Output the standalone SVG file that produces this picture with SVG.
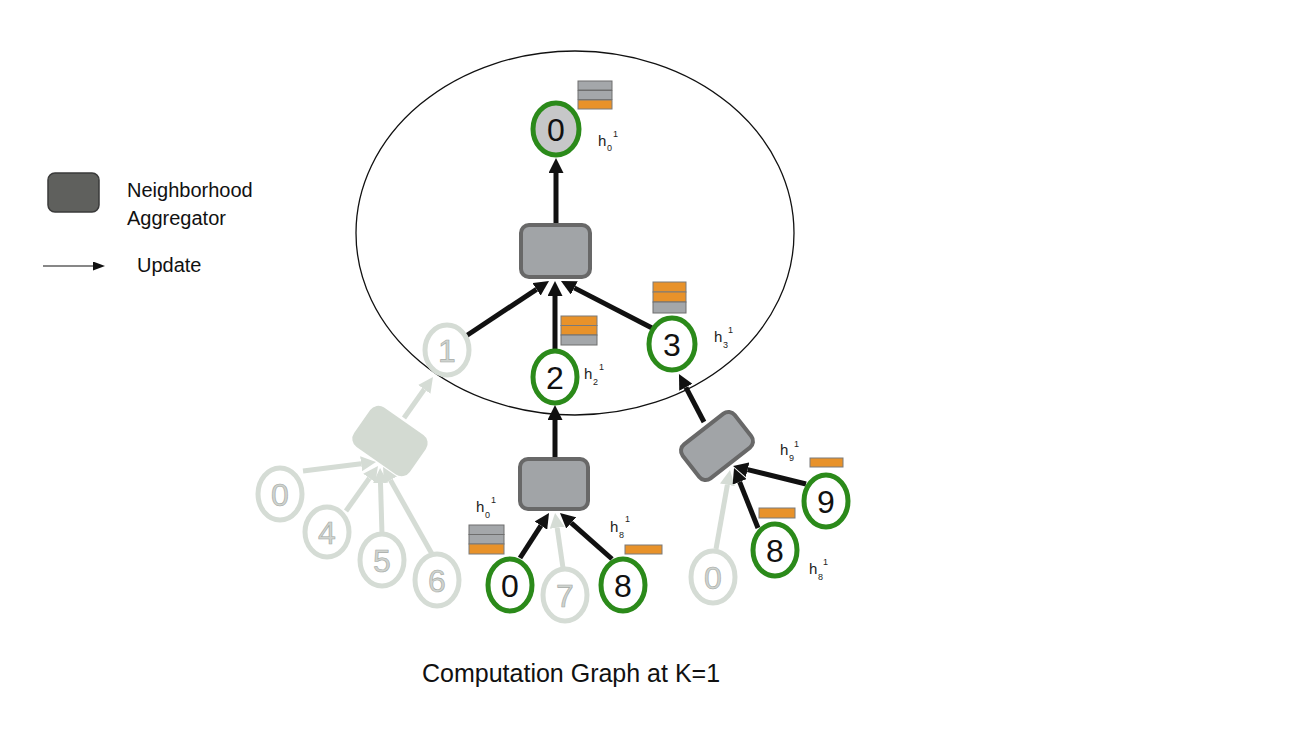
<svg xmlns="http://www.w3.org/2000/svg" width="1313" height="729" viewBox="0 0 1313 729">
<defs>
<style>
text{font-family:"Liberation Sans",Arial,sans-serif}
.g{fill:#fff;stroke:#2b8a1a;stroke-width:5}
.f{fill:#fff;stroke:#d5dcd5;stroke-width:5}
.d{font-size:32px;fill:#111;text-anchor:middle}
.fd{font-size:32px;fill:#cfd3cf;stroke:#a3a8a3;stroke-width:0.6;text-anchor:middle}
.agg{fill:#a1a4a7;stroke:#686868;stroke-width:4}
.fagg{fill:#d3dad2;stroke:#d3dad2;stroke-width:2}
.c{stroke:#111;stroke-width:5;fill:none}
.cf{stroke:#d5dcd5;stroke-width:5;fill:none}
.gb{fill:#a4a7aa;stroke:#6e6e6e;stroke-width:1}
.ob{fill:#e8922a;stroke:#7a7a7a;stroke-width:1}
.h{font-size:15px;fill:#222}
.s{font-size:9px;fill:#222}
.lg{font-size:20px;fill:#111}
</style>
<marker id="ah" markerUnits="userSpaceOnUse" markerWidth="15" markerHeight="15" refX="0" refY="7.5" orient="auto">
<path d="M0,0 L15,7.5 L0,15 z" fill="#111"/>
</marker>
<marker id="ahf" markerUnits="userSpaceOnUse" markerWidth="15" markerHeight="15" refX="0" refY="7.5" orient="auto">
<path d="M0,0 L15,7.5 L0,15 z" fill="#d5dcd5"/>
</marker>
<marker id="ahs" markerUnits="userSpaceOnUse" markerWidth="12" markerHeight="9" refX="0" refY="4.5" orient="auto">
<path d="M0,0 L12,4.5 L0,9 z" fill="#111"/>
</marker>
</defs>
<rect width="1313" height="729" fill="#fff"/>

<g id="boundary">
<ellipse cx="575" cy="233" rx="219" ry="182" fill="none" stroke="#111" stroke-width="1.3"/>
</g>

<g id="legend">
<rect x="48" y="173" width="51" height="39" rx="7" fill="#5f605d" stroke="#3a3a3a" stroke-width="1.5"/>
<text class="lg" x="127" y="197">Neighborhood</text>
<text class="lg" x="127" y="225">Aggregator</text>
<line x1="43" y1="266" x2="93" y2="266" stroke="#111" stroke-width="1.2" marker-end="url(#ahs)"/>
<text class="lg" x="137" y="272">Update</text>
</g>

<g id="faded-aggregator">
<rect x="357" y="418" width="66" height="46" rx="9" transform="rotate(35 390 441)" class="fagg"/>
</g>
<g id="agg-mid"><rect x="521" y="225" width="69" height="52" rx="8" class="agg"/></g>
<g id="agg-bottom"><rect x="520" y="459" width="68" height="50" rx="8" class="agg"/></g>
<g id="agg-right"><rect x="684" y="424.5" width="66" height="43" rx="8" transform="rotate(-38 717 446)" class="agg"/></g>

<g id="connectors">
<line class="cf" x1="303" y1="471" x2="361.1" y2="463.8" marker-end="url(#ahf)"/>
<line class="cf" x1="346" y1="511" x2="369.3" y2="478.2" marker-end="url(#ahf)"/>
<line class="cf" x1="382" y1="534" x2="380.5" y2="483" marker-end="url(#ahf)"/>
<line class="cf" x1="432" y1="554" x2="390.4" y2="480.1" marker-end="url(#ahf)"/>
<line class="cf" x1="404" y1="418" x2="424.3" y2="389.3" marker-end="url(#ahf)"/>
<line class="cf" x1="563" y1="568" x2="557.2" y2="527.8" marker-end="url(#ahf)"/>
<line class="cf" x1="716" y1="549" x2="727.4" y2="484.8" marker-end="url(#ahf)"/>
<line class="c" x1="556" y1="223" x2="556" y2="173" marker-end="url(#ah)"/>
<line class="c" x1="466" y1="336" x2="536.5" y2="289.3" marker-end="url(#ah)"/>
<line class="c" x1="555" y1="351" x2="555" y2="296" marker-end="url(#ah)"/>
<line class="c" x1="652" y1="328" x2="574.3" y2="287.9" marker-end="url(#ah)"/>
<line class="c" x1="555" y1="457" x2="555" y2="420" marker-end="url(#ah)"/>
<line class="c" x1="704" y1="422" x2="685.9" y2="387.3" marker-end="url(#ah)"/>
<line class="c" x1="520" y1="558" x2="540.9" y2="525.6" marker-end="url(#ah)"/>
<line class="c" x1="612" y1="559" x2="571.2" y2="522.9" marker-end="url(#ah)"/>
<line class="c" x1="806" y1="484" x2="747.6" y2="469.6" marker-end="url(#ah)"/>
<line class="c" x1="758" y1="528" x2="739.6" y2="481.9" marker-end="url(#ah)"/>
</g>

<g id="node-top-0">
<ellipse cx="556" cy="129" rx="23" ry="26" fill="#c6c7c8" stroke="#2b8a1a" stroke-width="5"/>
<text class="d" x="556" y="141">0</text>
<rect class="gb" x="578" y="81" width="34" height="9"/>
<rect class="gb" x="578" y="90.5" width="34" height="9"/>
<rect class="ob" x="578" y="100" width="34" height="9"/>
<text class="h" x="598" y="146">h</text><text class="s" x="607" y="151">0</text><text class="s" x="613" y="137">1</text>
</g>

<g id="node-1">
<ellipse cx="447" cy="350" rx="22" ry="25" fill="none" stroke="#d5dcd5" stroke-width="5"/>
<text class="fd" x="447" y="362">1</text>
</g>

<g id="node-2">
<ellipse cx="555" cy="377" rx="22" ry="26" class="g"/>
<text class="d" x="555" y="389">2</text>
<rect class="ob" x="561" y="316" width="36" height="9.5"/>
<rect class="ob" x="561" y="325.5" width="36" height="9.5"/>
<rect class="gb" x="561" y="335" width="36" height="10"/>
<text class="h" x="584" y="379">h</text><text class="s" x="593" y="385">2</text><text class="s" x="599" y="370">1</text>
</g>

<g id="node-3">
<ellipse cx="672" cy="344" rx="23" ry="26" class="g"/>
<text class="d" x="672" y="356">3</text>
<rect class="ob" x="653" y="282" width="33" height="10"/>
<rect class="ob" x="653" y="292" width="33" height="10"/>
<rect class="gb" x="653" y="302" width="33" height="11"/>
<text class="h" x="714" y="342">h</text><text class="s" x="723" y="348">3</text><text class="s" x="728" y="333">1</text>
</g>

<g id="faded-0"><ellipse cx="280" cy="494" rx="22" ry="26" class="f"/><text class="fd" x="280" y="506">0</text></g>
<g id="faded-4"><ellipse cx="327" cy="532" rx="22" ry="25" class="f"/><text class="fd" x="327" y="544">4</text></g>
<g id="faded-5"><ellipse cx="382" cy="560" rx="22" ry="26" class="f"/><text class="fd" x="382" y="572">5</text></g>
<g id="faded-6"><ellipse cx="437" cy="580" rx="22" ry="26" class="f"/><text class="fd" x="437" y="592">6</text></g>

<g id="node-bottom-0">
<ellipse cx="510" cy="585" rx="22" ry="26" class="g"/>
<text class="d" x="510" y="597">0</text>
<rect class="gb" x="469" y="525" width="35" height="9.5"/>
<rect class="gb" x="469" y="534.5" width="35" height="9.5"/>
<rect class="ob" x="469" y="544" width="35" height="10"/>
<text class="h" x="476" y="512">h</text><text class="s" x="485" y="518">0</text><text class="s" x="491" y="503">1</text>
</g>

<g id="faded-7"><ellipse cx="565" cy="595" rx="22" ry="26" class="f"/><text class="fd" x="565" y="607">7</text></g>

<g id="node-bottom-8">
<ellipse cx="623" cy="585" rx="22" ry="26" class="g"/>
<text class="d" x="623" y="597">8</text>
<rect class="ob" x="625" y="545" width="37" height="9"/>
<text class="h" x="610" y="532">h</text><text class="s" x="619" y="538">8</text><text class="s" x="625" y="522">1</text>
</g>

<g id="faded-right-0"><ellipse cx="713" cy="577" rx="22" ry="26" class="f"/><text class="fd" x="713" y="589">0</text></g>

<g id="node-right-8">
<ellipse cx="775" cy="550" rx="22" ry="26" class="g"/>
<text class="d" x="775" y="562">8</text>
<rect class="ob" x="759" y="508" width="36" height="10"/>
<text class="h" x="809" y="574">h</text><text class="s" x="818" y="580">8</text><text class="s" x="823" y="565">1</text>
</g>

<g id="node-right-9">
<ellipse cx="826" cy="501" rx="22" ry="26" class="g"/>
<text class="d" x="826" y="513">9</text>
<rect class="ob" x="810" y="458" width="33" height="9"/>
<text class="h" x="780" y="455">h</text><text class="s" x="789" y="461">9</text><text class="s" x="794" y="447">1</text>
</g>

<g id="title">
<text x="422" y="682" font-size="25" fill="#111">Computation Graph at K=1</text>
</g>
</svg>
